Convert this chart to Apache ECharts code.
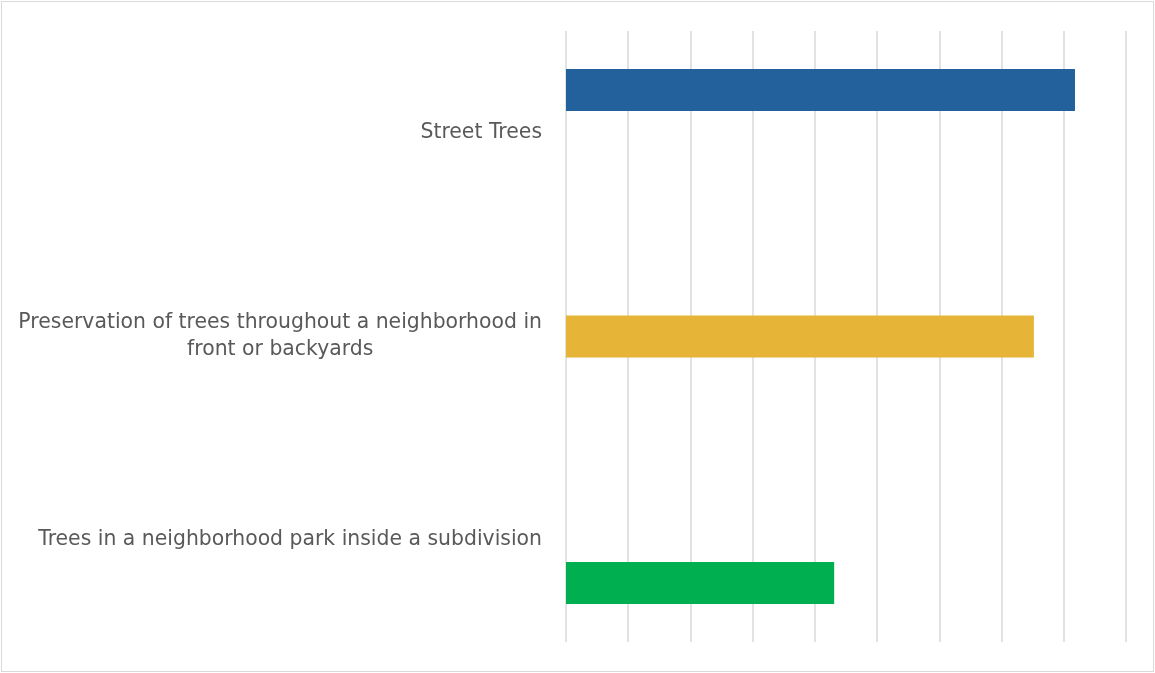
<!DOCTYPE html>
<html>
<head>
<meta charset="utf-8">
<script src="https://cdn.jsdelivr.net/npm/echarts@6/dist/echarts.min.js"></script>
<style>
html,body{margin:0;padding:0;background:#fff;}
#frame{position:absolute;left:1px;top:1px;width:1151px;height:669px;border:1px solid #d9d9d9;}
#chart{width:1151px;height:669px;}
</style>
</head>
<body>
<div id="frame"><div id="chart"></div></div>
<script>
const categories = [
  "Street Trees",
  "Preservation of trees throughout a neighborhood in\nfront or backyards",
  "Trees in a neighborhood park inside a subdivision"
];
const streetTrees = [8.18, null, null];
const preservation = [null, 7.52, null];
const parkTrees = [null, null, 4.31];
const colors = ["#22619C", "#E6B436", "#00B050"];

const FONT = 'DejaVu Sans';
const FS = 20.4;
const chart = echarts.init(document.getElementById('chart'), null, {renderer: 'canvas'});
function mk(name, data, color) {
  return {
    name: name, type: 'bar', data: data, barWidth: 42, barGap: '2%',
    itemStyle: {color: color}, silent: true, animation: false
  };
}
chart.setOption({
  animation: false,
  grid: {left: 564, right: 27, top: 29, bottom: 29, containLabel: false},
  xAxis: {
    type: 'value', min: 0, max: 9, interval: 1,
    axisLabel: {show: false}, axisLine: {show: false}, axisTick: {show: false},
    splitLine: {show: true, lineStyle: {color: '#d9d9d9', width: 1.5}}
  },
  yAxis: {
    type: 'category', data: categories, inverse: true,
    axisLine: {show: false}, axisTick: {show: false},
    splitLine: {show: false},
    axisLabel: {
      margin: 24, color: '#595959', fontSize: FS, fontFamily: FONT,
      formatter: function (v) { return v.split('\n').map(s => '{c|' + s + '}').join('\n'); },
      rich: {c: {align: 'center', color: '#595959', fontSize: FS, fontFamily: FONT, lineHeight: 27}}
    }
  },
  series: [
    mk('Street Trees', streetTrees, colors[0]),
    mk('Preservation', preservation, colors[1]),
    mk('Park', parkTrees, colors[2])
  ]
});
</script>
</body>
</html>
